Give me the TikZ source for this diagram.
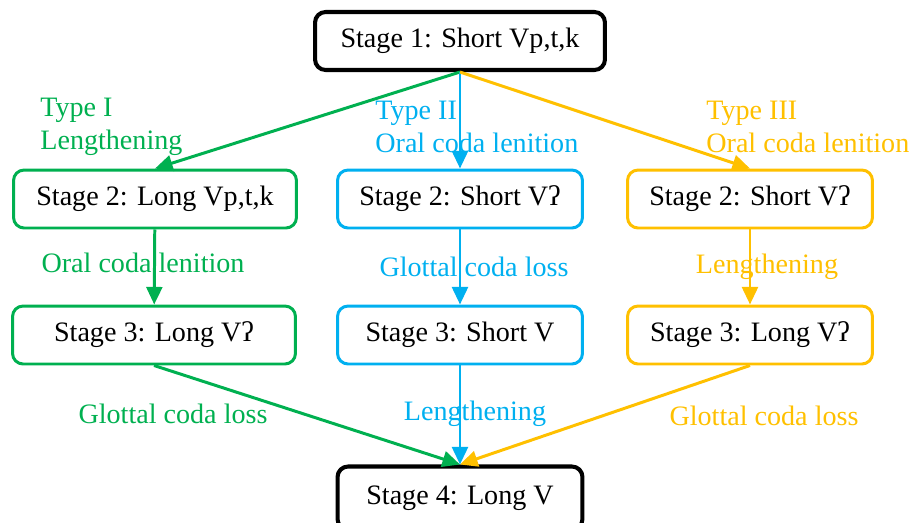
\documentclass[tikz,border=0pt]{standalone}
\usepackage{fontspec}
\setmainfont{Liberation Serif}
\usetikzlibrary{positioning, arrows.meta}
\definecolor{typeone}{HTML}{00B050}
\definecolor{typetwo}{HTML}{00B0F0}
\definecolor{typethree}{HTML}{FFC000}
\tikzset{
>={Triangle[length=10pt, width=9pt]}, % filled arrow heads
stage/.style={draw, rounded corners=6pt, line width=1.7pt, fill=white, minimum height=1.16cm, font=\fontsize{16}{19}\selectfont}, % every stage box
wide/.style={minimum width=5.66cm}, % boxes in the left column
narrow/.style={minimum width=4.9cm}, % boxes in the middle and right columns
changearrow/.style={->, line width=1.7pt}, % the change arrows
change/.style={inner sep=0pt, font=\fontsize{16}{19}\selectfont}, % text of a change
}

\begin{document}
\begin{tikzpicture}[x=0.02cm, y=-0.02cm]
    \useasboundingbox (0,0) rectangle (921,522);
    % stages
    \node[stage, narrow, line width=2.3pt, minimum width=5.8cm] (s1) at (460,41) {Stage 1: Short Vp,t,k};
    \node[stage, wide, draw=typeone] (s2a) at (155,199) {Stage 2: Long Vp,t,k};
    \node[stage, narrow, draw=typetwo] (s2b) at (460,199) {Stage 2: Short Vʔ};
    \node[stage, narrow, draw=typethree] (s2c) at (750,199) {Stage 2: Short Vʔ};
    \node[stage, wide, draw=typeone] (s3a) at (154,335) {Stage 3: Long Vʔ};
    \node[stage, narrow, draw=typetwo] (s3b) at (460,335) {Stage 3: Short V};
    \node[stage, narrow, draw=typethree] (s3c) at (750,335) {Stage 3: Long Vʔ};
    \node[stage, narrow, line width=2.3pt, minimum height=1.26cm] (s4) at (460,498) {Stage 4: Long V};
    % changes
    \draw[changearrow, typeone] (s1.south) -- (s2a.north);
    \draw[changearrow, typetwo] (s1.south) -- (s2b.north);
    \draw[changearrow, typethree] (s1.south) -- (s2c.north);
    \draw[changearrow, typeone] (s2a) -- (s3a);
    \draw[changearrow, typetwo] (s2b) -- (s3b);
    \draw[changearrow, typethree] (s2c) -- (s3c);
    \draw[changearrow, typeone] (s3a.south) -- (s4.north);
    \draw[changearrow, typethree] (s3c.south) -- (s4.north);
    \draw[changearrow, typetwo] (s3b.south) -- (s4.north);
    % labels
    \node[change, typeone, anchor=west, align=left] (t1) at (40,127) {Type I\\Lengthening};
    \node[change, typetwo, anchor=west, align=left] (t2) at (375,127) {Type II\\Oral coda lenition};
    \node[change, typethree, anchor=west, align=left] (t3) at (706,127) {Type III\\Oral coda lenition};
    \node[change, typeone] (c1a) at (143,263) {Oral coda lenition};
    \node[change, typetwo] (c1b) at (474,267) {Glottal coda loss};
    \node[change, typethree] (c1c) at (767,267) {Lengthening};
    \node[change, typeone] (c2a) at (173,414) {Glottal coda loss};
    \node[change, typetwo] (c2b) at (475,414) {Lengthening};
    \node[change, typethree] (c2c) at (764,416) {Glottal coda loss};
\end{tikzpicture}
\end{document}
